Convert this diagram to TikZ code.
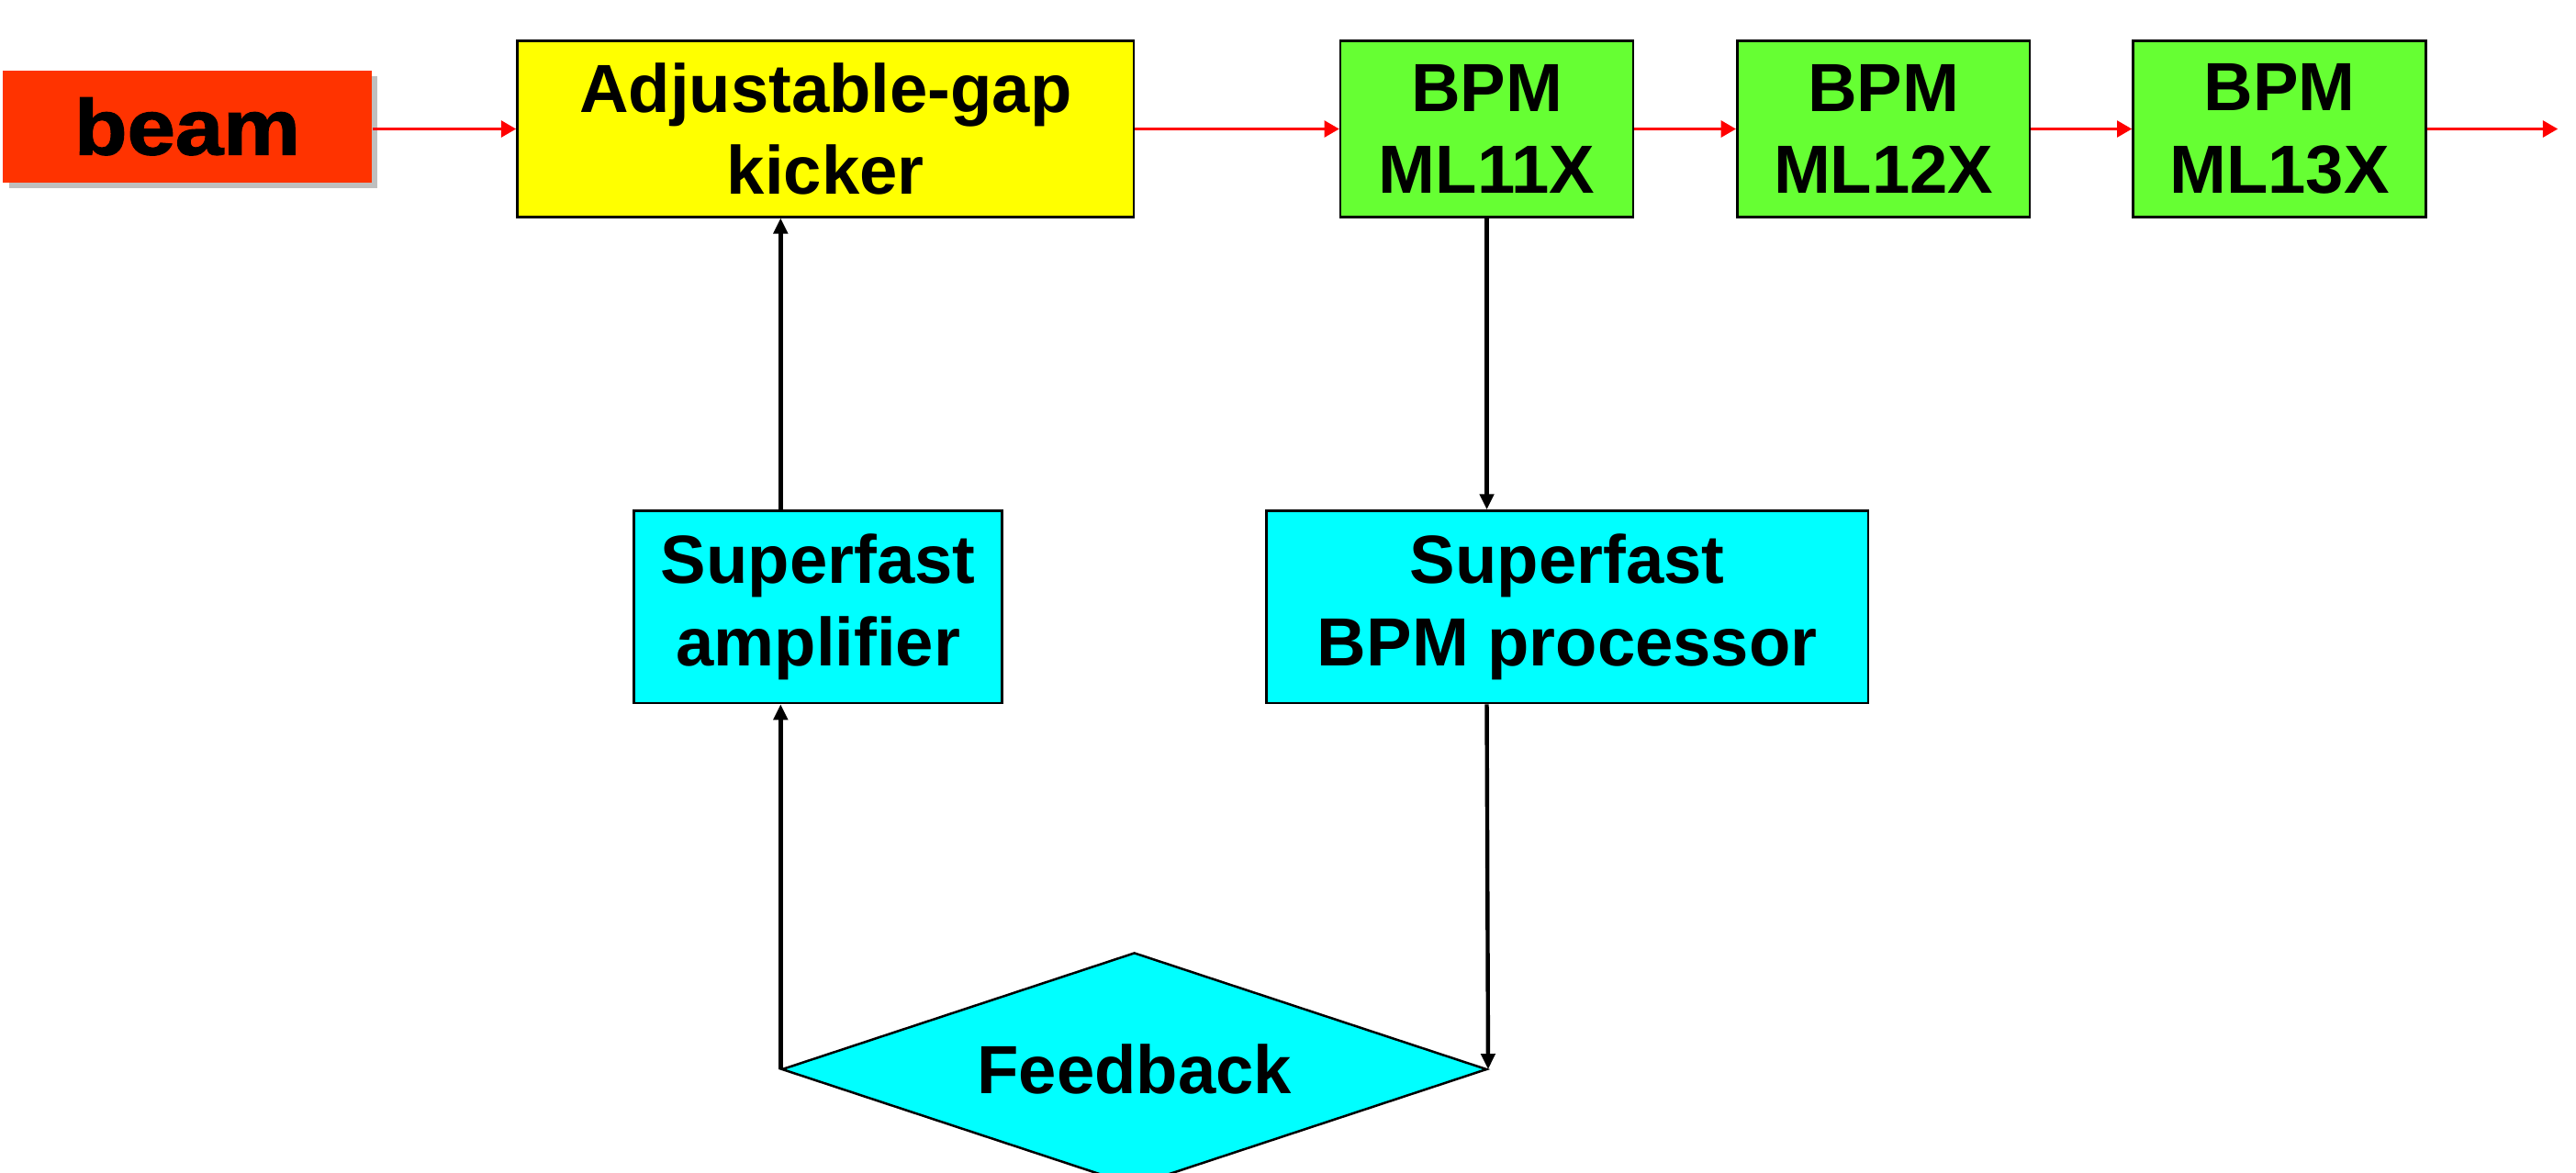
\documentclass[tikz,border=0pt]{standalone}
\usepackage{fontspec}
\setmainfont{Liberation Sans}
\newfontfamily\heavyfont[FakeBold=1.6,FakeStretch=1.1]{Liberation Sans Bold}
\usetikzlibrary{shapes.geometric,shadows,arrows.meta}
\definecolor{beamred}{HTML}{FF3300}
\definecolor{kickyellow}{HTML}{FFFF00}
\definecolor{bpmgreen}{HTML}{66FF33}
\definecolor{fbcyan}{HTML}{00FFFF}
\begin{document}
\begin{tikzpicture}[x=0.01cm,y=-0.01cm,
  font=\fontsize{11.8}{14.2}\selectfont\bfseries,
  box/.style={draw,line width=0.4pt,align=center,inner sep=0pt},
  beamline/.style={red,line width=0.6pt,-{Triangle[length=2.6pt,width=2.8pt]}},
  signal/.style={black,line width=0.7pt,-{Triangle[length=2.7pt,width=2.4pt]}}]
\clip (0,0) rectangle (1568,714);
\node (beam) [fill=beamred,inner sep=0pt,minimum width=2.24cm,minimum height=0.68cm,
  drop shadow={shadow xshift=0.035cm,shadow yshift=-0.035cm,fill=black!25,opacity=1},
  font=\fontsize{13.6}{16}\selectfont\heavyfont\bfseries] at (114,77) {beam};
\node (kick) [box,fill=kickyellow,minimum width=3.75cm,minimum height=1.07cm] at (502.5,78.5) {Adjustable-gap\\kicker};
\node (bpm11) [box,fill=bpmgreen,minimum width=1.78cm,minimum height=1.07cm] at (905,78.5) {BPM\\ML11X};
\node (bpm12) [box,fill=bpmgreen,minimum width=1.78cm,minimum height=1.07cm] at (1146.5,78.5) {BPM\\ML12X};
\node (bpm13) [box,fill=bpmgreen,minimum width=1.78cm,minimum height=1.07cm] at (1387.5,78.5) {BPM\\ML13X};
\coordinate (out) at (1557,78.5);
\node (amp) [box,fill=fbcyan,minimum width=2.24cm,minimum height=1.17cm] at (498,369.5) {Superfast\\amplifier};
\node (proc) [box,fill=fbcyan,minimum width=3.66cm,minimum height=1.17cm] at (954,369.5) {Superfast\\BPM processor};
\node (fb) [diamond,draw,line width=0.4pt,fill=fbcyan,aspect=3,inner sep=0pt,minimum width=4.29cm,minimum height=1.42cm] at (690.5,651) {Feedback};
\draw[beamline] (beam.east |- kick.west) -- (kick.west);
\draw[beamline] (kick.east) -- (bpm11.west);
\draw[beamline] (bpm11.east) -- (bpm12.west);
\draw[beamline] (bpm12.east) -- (bpm13.west);
\draw[beamline] (bpm13.east) -- (out);
\draw[signal] (bpm11.south) -- (proc.north -| bpm11.south);
\draw[signal] (proc.south -| bpm11.south) -- (fb.east);
\draw[signal] (fb.west) -- (amp.south -| fb.west);
\draw[signal] (amp.north -| fb.west) -- (kick.south -| fb.west);
\end{tikzpicture}
\end{document}
